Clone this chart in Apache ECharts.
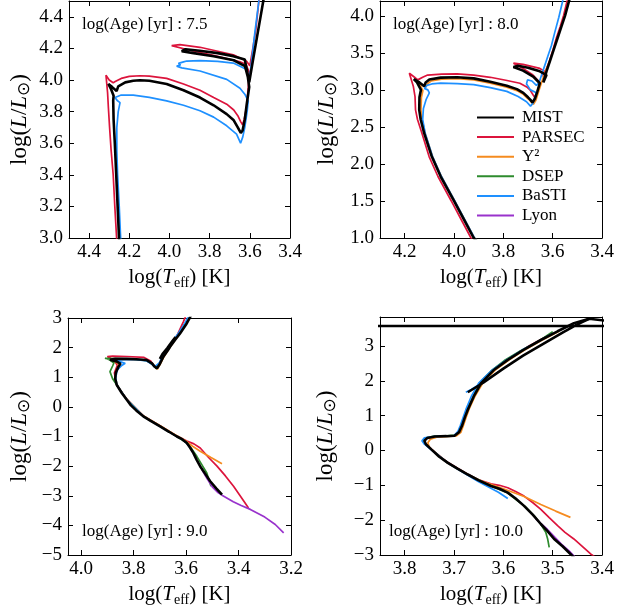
<!DOCTYPE html>
<html>
<head>
<meta charset="utf-8">
<script src="https://cdn.jsdelivr.net/npm/echarts@6/dist/echarts.min.js"></script>
<style>
html,body{margin:0;padding:0;background:#fff;}
#c{width:618px;height:611px;}
</style>
</head>
<body>
<div id="c"></div>
<script>
// ---------------- DATA ----------------
const models = ['MIST', 'PARSEC', 'Y²', 'DSEP', 'BaSTI', 'Lyon'];
const ageLabels = ['7.5', '8.0', '9.0', '10.0'];

// log(Age)=7.5  [logTeff, logL]
const mist75 = [[4.240,2.90],[4.251,3.00],[4.258,3.20],[4.265,3.40],[4.272,3.60],[4.278,3.75],[4.280,3.87],[4.278,3.90],[4.290,3.94],[4.304,3.975],[4.285,3.955],[4.263,3.93],[4.255,3.96],[4.220,3.985],[4.180,3.995],[4.147,3.998],[4.100,3.995],[4.014,3.975],[3.930,3.935],[3.848,3.889],[3.780,3.840],[3.715,3.784],[3.680,3.745],[3.660,3.700],[3.645,3.665],[3.636,3.680],[3.625,3.750],[3.615,3.850],[3.603,3.956],[3.610,4.020],[3.624,4.088],[3.680,4.125],[3.780,4.150],[3.880,4.170],[3.939,4.182],[3.920,4.195],[3.850,4.185],[3.760,4.170],[3.682,4.151],[3.625,4.130],[3.603,3.985],[3.585,4.120],[3.566,4.260],[3.548,4.390],[3.533,4.500],[3.525,4.560]];
const parsec75 = [[4.255,2.90],[4.263,3.00],[4.272,3.20],[4.280,3.40],[4.290,3.55],[4.298,3.70],[4.304,3.826],[4.308,3.920],[4.316,4.031],[4.300,4.000],[4.280,3.983],[4.270,3.990],[4.240,4.010],[4.200,4.023],[4.147,4.027],[4.100,4.025],[4.014,4.010],[3.930,3.975],[3.848,3.935],[3.780,3.890],[3.715,3.847],[3.680,3.810],[3.658,3.770],[3.645,3.735],[3.636,3.717],[3.628,3.750],[3.616,3.830],[3.608,3.950],[3.603,4.050],[3.620,4.100],[3.649,4.115],[3.765,4.151],[3.914,4.193],[3.989,4.218],[3.948,4.224],[3.848,4.207],[3.682,4.160],[3.616,4.118],[3.600,4.090],[3.585,4.200],[3.570,4.320],[3.555,4.500],[3.548,4.560]];
const basti75 = [[4.235,2.90],[4.243,3.00],[4.250,3.20],[4.258,3.40],[4.262,3.55],[4.262,3.70],[4.255,3.80],[4.246,3.857],[4.260,3.870],[4.271,3.889],[4.262,3.900],[4.240,3.905],[4.180,3.904],[4.100,3.890],[4.014,3.868],[3.930,3.840],[3.848,3.805],[3.780,3.765],[3.715,3.710],[3.666,3.658],[3.646,3.600],[3.635,3.640],[3.625,3.700],[3.613,3.805],[3.608,3.868],[3.625,3.910],[3.649,3.948],[3.715,4.004],[3.848,4.057],[3.939,4.077],[3.964,4.088],[3.945,4.095],[3.955,4.105],[3.930,4.115],[3.914,4.120],[3.848,4.123],[3.760,4.118],[3.682,4.107],[3.616,4.067],[3.603,3.996],[3.591,4.120],[3.575,4.300],[3.566,4.390],[3.555,4.500],[3.550,4.560]];

// log(Age)=8.0
const mist80 = [[3.905,0.95],[3.920,1.00],[3.960,1.25],[4.000,1.50],[4.054,1.83],[4.090,2.10],[4.121,2.415],[4.135,2.60],[4.141,2.73],[4.140,2.90],[4.134,3.000],[4.150,3.100],[4.163,3.145],[4.140,3.100],[4.121,3.050],[4.115,3.100],[4.100,3.140],[4.054,3.165],[3.987,3.170],[3.920,3.155],[3.853,3.110],[3.786,3.055],[3.745,3.010],[3.719,2.960],[3.700,2.900],[3.690,2.865],[3.682,2.830],[3.672,2.880],[3.662,2.980],[3.652,3.090],[3.679,3.180],[3.720,3.260],[3.759,3.310],[3.740,3.325],[3.700,3.300],[3.652,3.250],[3.625,3.200],[3.638,3.100],[3.625,3.250],[3.610,3.400],[3.595,3.550],[3.580,3.700],[3.565,3.850],[3.550,4.000],[3.532,4.220],[3.525,4.300]];
const parsec80 = [[3.916,0.95],[3.931,1.00],[3.971,1.25],[4.011,1.50],[4.065,1.83],[4.101,2.10],[4.130,2.415],[4.148,2.60],[4.156,2.73],[4.158,2.91],[4.165,3.05],[4.181,3.225],[4.160,3.170],[4.147,3.135],[4.127,3.170],[4.107,3.200],[4.050,3.212],[3.987,3.216],[3.920,3.200],[3.853,3.170],[3.790,3.130],[3.733,3.090],[3.705,3.040],[3.692,3.000],[3.679,2.930],[3.673,2.900],[3.665,2.950],[3.659,3.000],[3.652,3.100],[3.680,3.200],[3.720,3.290],[3.759,3.360],[3.720,3.345],[3.652,3.290],[3.632,3.250],[3.640,3.180],[3.628,3.260],[3.612,3.400],[3.598,3.550],[3.585,3.700],[3.570,3.850],[3.556,4.000],[3.540,4.220],[3.535,4.300]];
const y2_80 = [[3.902,0.95],[3.917,1.00],[3.957,1.25],[3.997,1.50],[4.051,1.83],[4.087,2.10],[4.117,2.415],[4.130,2.60],[4.134,2.73],[4.132,2.90],[4.126,2.990],[4.140,3.080],[4.155,3.125],[4.132,3.080],[4.115,3.035],[4.108,3.080],[4.093,3.120],[4.050,3.145],[3.987,3.150],[3.920,3.135],[3.853,3.090],[3.786,3.035],[3.745,2.990],[3.719,2.940],[3.700,2.880],[3.688,2.840],[3.678,2.805],[3.668,2.860],[3.655,3.000],[3.640,3.150],[3.625,3.280],[3.610,3.400]];
const basti80 = [[3.902,0.95],[3.917,1.00],[3.957,1.25],[3.997,1.50],[4.051,1.83],[4.087,2.10],[4.117,2.415],[4.127,2.60],[4.124,2.75],[4.113,2.87],[4.100,2.960],[4.106,3.000],[4.120,3.020],[4.127,3.040],[4.110,3.060],[4.090,3.080],[4.054,3.090],[3.987,3.085],[3.920,3.070],[3.853,3.030],[3.786,2.980],[3.740,2.910],[3.706,2.840],[3.690,2.780],[3.680,2.820],[3.672,2.900],[3.666,2.960],[3.690,3.000],[3.706,3.080],[3.702,3.135],[3.684,3.120],[3.666,3.060],[3.655,3.100],[3.640,3.250],[3.620,3.450],[3.605,3.600],[3.592,3.770],[3.575,3.980],[3.558,4.220],[3.552,4.300]];

// log(Age)=9.0
const mist90 = [[3.463,-2.96],[3.485,-2.75],[3.508,-2.51],[3.530,-2.22],[3.546,-2.01],[3.560,-1.78],[3.572,-1.56],[3.585,-1.37],[3.597,-1.22],[3.615,-1.09],[3.635,-1.00],[3.665,-0.84],[3.699,-0.66],[3.735,-0.47],[3.763,-0.32],[3.790,-0.12],[3.810,0.05],[3.826,0.24],[3.845,0.47],[3.864,0.74],[3.870,0.95],[3.868,1.15],[3.858,1.35],[3.850,1.46],[3.862,1.52],[3.890,1.59],[3.870,1.62],[3.826,1.62],[3.790,1.61],[3.750,1.58],[3.730,1.47],[3.720,1.36],[3.711,1.30],[3.700,1.45],[3.686,1.70],[3.670,1.90],[3.661,2.03],[3.640,2.28],[3.623,2.48],[3.600,2.78],[3.584,3.04],[3.570,3.30]];
const mist90hb = [[3.700,1.62],[3.690,1.78],[3.672,1.98],[3.652,2.22],[3.640,2.36]];
const parsec90 = [[3.362,-3.41],[3.390,-3.05],[3.419,-2.68],[3.450,-2.33],[3.482,-2.00],[3.515,-1.70],[3.546,-1.39],[3.570,-1.25],[3.597,-1.15],[3.635,-0.98],[3.699,-0.64],[3.763,-0.30],[3.826,0.26],[3.866,0.76],[3.873,1.15],[3.862,1.40],[3.872,1.55],[3.900,1.70],[3.880,1.71],[3.826,1.70],[3.760,1.67],[3.735,1.55],[3.724,1.41],[3.713,1.33],[3.700,1.50],[3.684,1.75],[3.660,2.07],[3.635,2.40],[3.610,2.88],[3.595,3.20]];
const y2_90 = [[3.463,-1.92],[3.505,-1.71],[3.546,-1.50],[3.575,-1.33],[3.597,-1.18],[3.620,-1.05],[3.650,-0.90],[3.699,-0.64],[3.763,-0.31],[3.826,0.24],[3.864,0.74],[3.868,1.00],[3.862,1.30],[3.855,1.45],[3.870,1.52],[3.885,1.57],[3.865,1.60],[3.826,1.60],[3.790,1.59],[3.750,1.56],[3.728,1.44],[3.718,1.34],[3.709,1.28],[3.698,1.45],[3.684,1.70],[3.660,2.03],[3.640,2.28],[3.620,2.52]];
const dsep90 = [[3.505,-2.68],[3.513,-2.45],[3.521,-2.23],[3.540,-1.95],[3.559,-1.67],[3.580,-1.40],[3.600,-1.20],[3.635,-1.00],[3.699,-0.65],[3.763,-0.31],[3.826,0.25],[3.864,0.74],[3.880,0.95],[3.890,1.19],[3.880,1.38],[3.875,1.48],[3.890,1.58],[3.909,1.64],[3.870,1.63],[3.800,1.61],[3.750,1.56],[3.726,1.42],[3.713,1.31],[3.700,1.48],[3.686,1.72],[3.662,2.05],[3.625,2.50],[3.605,2.80]];
const basti90 = [[3.584,-1.39],[3.600,-1.20],[3.620,-1.07],[3.650,-0.92],[3.699,-0.66],[3.763,-0.32],[3.826,0.24],[3.864,0.74],[3.868,1.00],[3.862,1.25],[3.845,1.40],[3.832,1.47],[3.850,1.52],[3.875,1.55],[3.860,1.58],[3.826,1.60],[3.790,1.59],[3.750,1.55],[3.730,1.44],[3.720,1.35],[3.713,1.32],[3.702,1.48],[3.690,1.72],[3.672,1.95],[3.650,2.22],[3.628,2.50],[3.605,2.82],[3.588,3.10]];
const lyon90 = [[3.540,-2.12],[3.520,-2.42],[3.500,-2.70],[3.480,-2.88],[3.463,-2.98],[3.420,-3.20],[3.390,-3.33],[3.355,-3.46],[3.300,-3.72],[3.260,-3.97],[3.228,-4.25]];

// log(Age)=10.0
const mist100 = [[3.455,-3.10],[3.464,-2.97],[3.480,-2.75],[3.497,-2.54],[3.510,-2.32],[3.524,-2.11],[3.540,-1.85],[3.558,-1.59],[3.575,-1.38],[3.591,-1.21],[3.608,-1.10],[3.625,-1.02],[3.650,-0.86],[3.672,-0.69],[3.693,-0.52],[3.713,-0.35],[3.730,-0.18],[3.746,0.03],[3.757,0.18],[3.760,0.28],[3.754,0.36],[3.739,0.40],[3.715,0.41],[3.699,0.42],[3.690,0.52],[3.684,0.70],[3.678,0.95],[3.672,1.17],[3.660,1.55],[3.645,1.93],[3.620,2.30],[3.591,2.60],[3.560,2.88],[3.524,3.17],[3.490,3.42],[3.457,3.65],[3.426,3.78]];
const mist100hb = [[3.672,1.67],[3.668,1.70],[3.640,1.95],[3.600,2.35],[3.560,2.72],[3.520,3.05],[3.480,3.38],[3.450,3.62],[3.426,3.78],[3.380,3.70],[3.380,3.57],[4.200,3.57]];
const parsec100 = [[3.400,-3.20],[3.423,-2.97],[3.440,-2.75],[3.457,-2.54],[3.475,-2.35],[3.490,-2.16],[3.507,-1.93],[3.524,-1.69],[3.540,-1.50],[3.558,-1.31],[3.575,-1.18],[3.591,-1.07],[3.608,-1.00],[3.625,-0.96],[3.650,-0.84],[3.672,-0.68],[3.713,-0.34],[3.746,0.04],[3.758,0.20],[3.760,0.29],[3.753,0.37],[3.715,0.42],[3.699,0.43],[3.690,0.53],[3.682,0.75],[3.676,1.00],[3.668,1.30],[3.655,1.70],[3.640,2.00],[3.615,2.36],[3.585,2.67],[3.550,2.98],[3.515,3.25],[3.500,3.35]];
const y2_100 = [[3.464,-1.92],[3.494,-1.74],[3.524,-1.55],[3.558,-1.32],[3.600,-1.10],[3.645,-0.88],[3.672,-0.70],[3.713,-0.37],[3.740,-0.05],[3.750,0.10],[3.753,0.22],[3.748,0.32],[3.735,0.38],[3.712,0.40],[3.695,0.42],[3.686,0.52],[3.681,0.72],[3.675,0.97],[3.669,1.20],[3.657,1.57],[3.642,1.93],[3.617,2.30],[3.588,2.60],[3.557,2.88],[3.521,3.17],[3.487,3.42]];
const dsep100 = [[3.507,-2.78],[3.510,-2.55],[3.514,-2.35],[3.525,-2.10],[3.537,-1.88],[3.555,-1.62],[3.575,-1.40],[3.591,-1.22],[3.625,-1.02],[3.672,-0.69],[3.713,-0.35],[3.746,0.03],[3.758,0.19],[3.761,0.29],[3.755,0.37],[3.739,0.41],[3.715,0.42],[3.698,0.44],[3.690,0.55],[3.684,0.72],[3.678,0.97],[3.673,1.18],[3.660,1.57],[3.648,1.95],[3.625,2.28],[3.598,2.58],[3.565,2.86],[3.530,3.12],[3.500,3.41]];
const basti100 = [[3.591,-1.38],[3.610,-1.20],[3.630,-1.05],[3.650,-0.90],[3.672,-0.71],[3.713,-0.36],[3.746,0.02],[3.760,0.18],[3.765,0.28],[3.760,0.36],[3.742,0.40],[3.715,0.41],[3.700,0.43],[3.692,0.55],[3.687,0.72],[3.681,0.97],[3.676,1.17],[3.665,1.55],[3.650,1.93],[3.625,2.28],[3.595,2.58],[3.562,2.88],[3.530,3.12],[3.500,3.36]];
const basti100hb = [[3.676,1.67],[3.665,1.75],[3.640,1.97],[3.610,2.25]];
const lyon100 = [[3.535,-1.95],[3.522,-2.12],[3.511,-2.26],[3.495,-2.50],[3.480,-2.72],[3.464,-2.92],[3.452,-3.10]];

// axis ranges per panel: [min, max, step]
const xRanges = [[3.4, 4.5, 0.2], [3.4, 4.3, 0.2], [3.2, 4.05, 0.2], [3.4, 3.85, 0.1]];
const yRanges = [[3.0, 4.5, 0.2], [1.0, 4.2, 0.5], [-5, 3, 1], [-3, 3.83, 1]];

// ---------------- STYLE ----------------
const FONT = '"Liberation Serif", "Times New Roman", "DejaVu Serif", serif';
const COLORS = {'MIST':'#000000','PARSEC':'#dc143c','Y²':'#f58b1f','DSEP':'#2e8b2e','BaSTI':'#1e90ff','Lyon':'#9932cc'};
const WIDTHS = {'MIST':2.6,'PARSEC':1.7,'Y²':1.7,'DSEP':1.7,'BaSTI':1.7,'Lyon':1.7};

const grids = [
  {left: 69, top: 1, width: 221, height: 237},
  {left: 380, top: 1, width: 222, height: 237},
  {left: 68, top: 318, width: 223, height: 237},
  {left: 380, top: 317, width: 222, height: 238}
];
const yNameGap = [36, 40, 35, 41];
const decimals = [[1,1],[1,1],[1,0],[1,0]];

function fmt(step, dec) {
  return function (v) {
    const k = v / step;
    if (Math.abs(k - Math.round(k)) > 1e-6) return '';
    let s = (Math.round(k) * step).toFixed(dec);
    if (s === '-0' || s === '-0.0') s = s.slice(1);
    return s.replace('-', '\u2212');
  };
}

const rich = {
  i: {fontFamily: FONT, fontStyle: 'italic', fontSize: 21, lineHeight: 26, color: '#000'},
  iy: {fontFamily: FONT, fontStyle: 'italic', fontSize: 23, lineHeight: 26, color: '#000'},
  s: {fontFamily: FONT, fontSize: 14, lineHeight: 13, verticalAlign: 'bottom', color: '#000'},
  o: {fontFamily: '"DejaVu Sans", sans-serif', fontSize: 17, lineHeight: 14, verticalAlign: 'bottom', color: '#000'}
};

const xAxes = [], yAxes = [];
for (let p = 0; p < 4; p++) {
  const [x0, x1, xs] = xRanges[p];
  const [y0, y1, ys] = yRanges[p];
  xAxes.push({
    type: 'value', gridIndex: p, min: x0, max: x1, interval: xs, inverse: true, position: 'bottom',
    name: 'log({i|T}{s|eff}) [K]', nameLocation: 'middle', nameGap: 26,
    nameTextStyle: {fontFamily: FONT, fontSize: 21, lineHeight: 26, color: '#000', rich: rich},
    axisLine: {show: true, onZero: false, lineStyle: {color: '#000', width: 1}},
    axisTick: {show: true, inside: true, length: 5, lineStyle: {color: '#000'}},
    axisLabel: {fontFamily: FONT, fontSize: 19, color: '#000', margin: 5, formatter: fmt(xs, decimals[p][0])},
    splitLine: {show: false}
  });
  yAxes.push({
    type: 'value', gridIndex: p, min: y0, max: y1, interval: ys, position: 'left',
    name: 'log({iy|L}/{iy|L}{o|⊙})', nameLocation: 'middle', nameGap: yNameGap[p], nameRotate: 90,
    nameTextStyle: {fontFamily: FONT, fontSize: 23, lineHeight: 26, color: '#000', rich: rich},
    axisLine: {show: true, onZero: false, lineStyle: {color: '#000', width: 1}},
    axisTick: {show: true, inside: true, length: 5, lineStyle: {color: '#000'}},
    axisLabel: {fontFamily: FONT, fontSize: 19, color: '#000', margin: 6, formatter: fmt(ys, decimals[p][1])},
    splitLine: {show: false}
  });
}
for (let p = 0; p < 4; p++) {
  const [x0, x1, xs] = xRanges[p];
  const [y0, y1, ys] = yRanges[p];
  xAxes.push({
    type: 'value', gridIndex: p, min: x0, max: x1, interval: xs, inverse: true, position: 'top',
    axisLine: {show: true, onZero: false, lineStyle: {color: '#000', width: 1}},
    axisTick: {show: true, inside: true, length: 5, lineStyle: {color: '#000'}},
    axisLabel: {show: false}, splitLine: {show: false}
  });
  yAxes.push({
    type: 'value', gridIndex: p, min: y0, max: y1, interval: ys, position: 'right',
    axisLine: {show: true, onZero: false, lineStyle: {color: '#000', width: 1}},
    axisTick: {show: true, inside: true, length: 5, lineStyle: {color: '#000'}},
    axisLabel: {show: false}, splitLine: {show: false}
  });
}

function line(name, data, p) {
  return {
    type: 'line', name: name, data: data, xAxisIndex: p, yAxisIndex: p,
    symbol: 'none', showSymbol: false, clip: true, smooth: false, silent: true,
    z: name === 'MIST' ? 5 : 3,
    lineStyle: {color: COLORS[name], width: WIDTHS[name]},
    itemStyle: {color: COLORS[name]}
  };
}

const series = [
  line('PARSEC', parsec75, 0), line('BaSTI', basti75, 0), line('MIST', mist75, 0),
  line('PARSEC', parsec80, 1), line('Y²', y2_80, 1), line('BaSTI', basti80, 1), line('MIST', mist80, 1),
  line('PARSEC', parsec90, 2), line('Y²', y2_90, 2), line('DSEP', dsep90, 2), line('BaSTI', basti90, 2),
  line('Lyon', lyon90, 2), line('MIST', mist90, 2), line('MIST', mist90hb, 2),
  line('PARSEC', parsec100, 3), line('Y²', y2_100, 3), line('DSEP', dsep100, 3), line('BaSTI', basti100, 3),
  line('BaSTI', basti100hb, 3), line('Lyon', lyon100, 3), line('MIST', mist100, 3), line('MIST', mist100hb, 3)
];

const annot = [[82, 25], [393, 25], [82, 532], [389, 532]];
const graphic = ageLabels.map((a, i) => ({
  type: 'text', x: annot[i][0], y: annot[i][1], z: 100,
  style: {text: 'log(Age) [yr] : ' + a, fontFamily: FONT, fontSize: 17, fill: '#000', verticalAlign: 'middle'}
}));

const chart = echarts.init(document.getElementById('c'), null, {renderer: 'canvas'});
chart.setOption({
  animation: false,
  backgroundColor: '#fff',
  grid: grids,
  xAxis: xAxes,
  yAxis: yAxes,
  legend: {
    data: models, orient: 'vertical', left: 471, top: 104,
    itemWidth: 37, itemHeight: 14, itemGap: 2.6,
    itemStyle: {opacity: 0},
    textStyle: {fontFamily: FONT, fontSize: 17, color: '#000', lineHeight: 17, padding: [0, 0, 0, 3]},
    selectedMode: false
  },
  graphic: graphic,
  series: series
});
</script>
</body>
</html>
